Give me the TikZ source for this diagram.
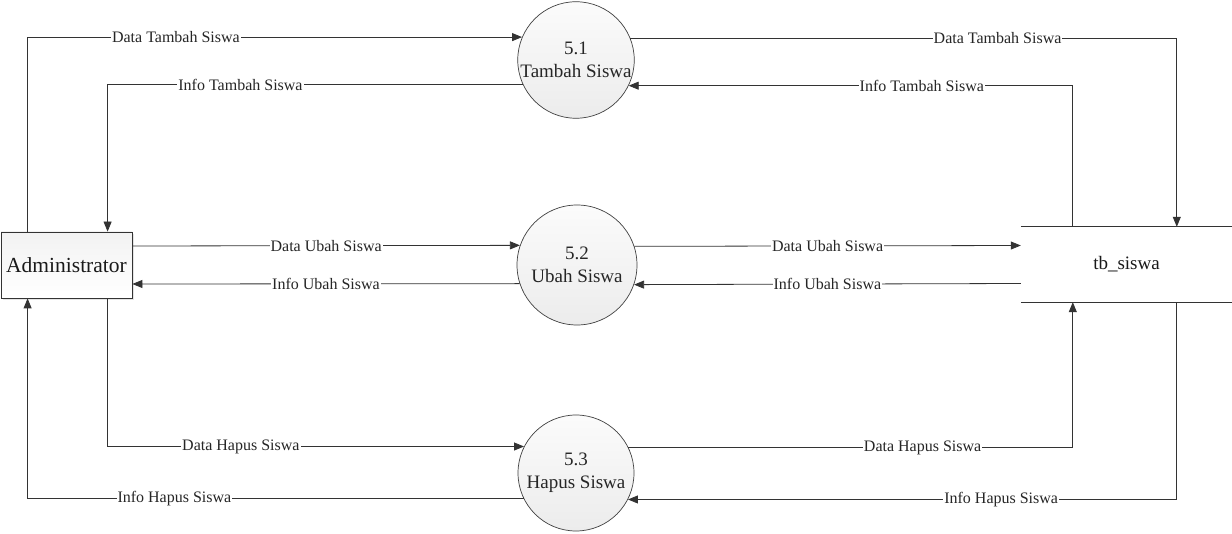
\documentclass[tikz,border=0pt]{standalone}
\usepackage{fontspec}
\setmainfont{Liberation Serif}
\usetikzlibrary{arrows.meta,calc,shadows}
\begin{document}
\begin{tikzpicture}[x=1pt,y=-1pt,
  line/.style={draw=black!80,line width=0.8pt},
  flow/.style={line,-{Triangle[length=10pt,width=8pt]}},
  lbl/.style={fill=white,inner sep=1pt,font=\fontsize{16}{18}\selectfont,text=black!85},
  proc/.style={circle,draw=black!75,line width=0.7pt,minimum size=116pt,inner sep=0pt,
    top color=gray!3,bottom color=gray!15,align=center,font=\fontsize{19}{23}\selectfont,text=black!85},
  entity/.style={rectangle,draw=black!80,line width=0.8pt,minimum width=131pt,minimum height=66pt,
    top color=gray!10,bottom color=white,font=\fontsize{21.5}{24}\selectfont,text=black!90,
    drop shadow={shadow xshift=2pt,shadow yshift=-2pt,fill=gray!35,opacity=0.6}},
  store/.style={rectangle,minimum width=211pt,minimum height=75pt,inner sep=0pt,
    font=\fontsize{19}{22}\selectfont,text=black!90}
]
\useasboundingbox[fill=white] (0,0) rectangle (1232,534);

\node[entity] (admin) at (66.5,265) {Administrator};
\node[proc] (c1) at (576,60) {5.1\\Tambah Siswa};
\node[proc,minimum size=120pt] (c2) at (577,265) {5.2\\Ubah Siswa};
\node[proc] (c3) at (576,473) {5.3\\Hapus Siswa};
\node[store] (tb) at (1126.5,264.5) {tb\_siswa};
\draw[line] (tb.north west) -- (tb.north east);
\draw[line] (tb.south west) -- (tb.south east);

% Tambah
\draw[flow] ($(admin.north west)+(27,0)$) |- (c1.157.7)
  node[lbl,pos=0.65] {Data Tambah Siswa};
\draw[flow] (c1.205.5) -| ($(admin.north west)+(107,0)$)
  node[lbl,pos=0.34] {Info Tambah Siswa};
\draw[flow] (c1.22.3) -| ($(tb.north west)+(156,0)$)
  node[lbl,pos=0.336] {Data Tambah Siswa};
\draw[flow] ($(tb.north west)+(52,0)$) |- (c1.334.5)
  node[lbl,pos=0.67] {Info Tambah Siswa};

% Ubah
\draw[flow] ($(admin.east)+(0,-19)$) -- (c2.161.5)
  node[lbl,midway] {Data Ubah Siswa};
\draw[flow] (c2.198.5) -- ($(admin.east)+(0,19)$)
  node[lbl,midway] {Info Ubah Siswa};
\draw[flow] (c2.18.5) -- ($(tb.west)+(0,-19)$)
  node[lbl,midway] {Data Ubah Siswa};
\draw[flow] ($(tb.west)+(0,19)$) -- (c2.341.5)
  node[lbl,midway] {Info Ubah Siswa};

% Hapus
\draw[flow] ($(admin.south west)+(107,0)$) |- (c3.153.4)
  node[lbl,pos=0.66] {Data Hapus Siswa};
\draw[flow] (c3.206.6) -| ($(admin.south west)+(27,0)$)
  node[lbl,pos=0.352] {Info Hapus Siswa};
\draw[flow] (c3.26.6) -| ($(tb.south west)+(52,0)$)
  node[lbl,pos=0.331] {Data Hapus Siswa};
\draw[flow] ($(tb.south west)+(156,0)$) |- (c3.333.4)
  node[lbl,pos=0.66] {Info Hapus Siswa};
\end{tikzpicture}
\end{document}
